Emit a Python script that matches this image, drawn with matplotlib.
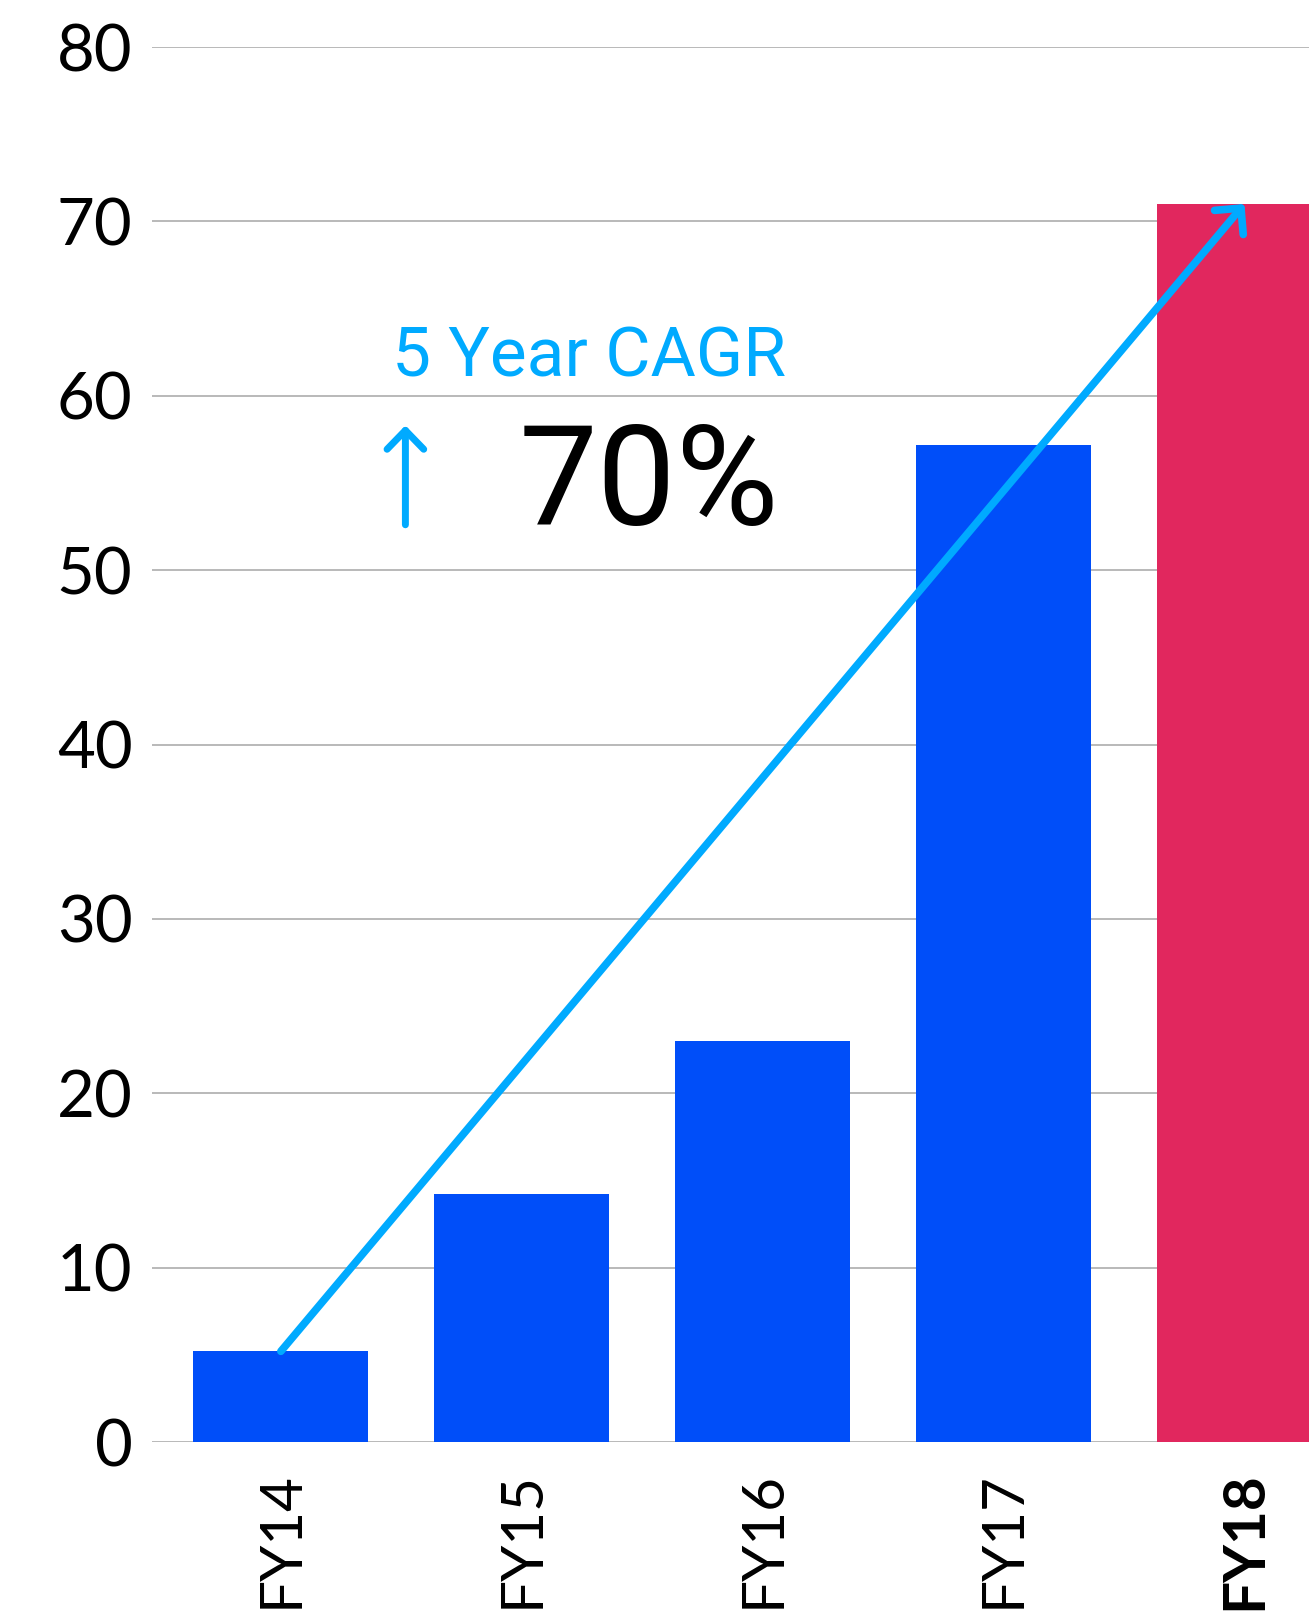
import numpy as np
import matplotlib.pyplot as plt

# data
years = ['FY14', 'FY15', 'FY16', 'FY17', 'FY18']
revenue = [5.2, 14.2, 23.0, 57.2, 71.0]
bar_colors = ['#004ef9', '#004ef9', '#004ef9', '#004ef9', '#e1275e']
y_ticks = [0, 10, 20, 30, 40, 50, 60, 70, 80]
cagr_label = '5 Year CAGR'
cagr_value = '70%'

fig = plt.figure(figsize=(13.09, 16.22), dpi=100)
ax = fig.add_axes([0.1161, 0.11097, 0.8839, 0.86005])

x = np.arange(len(years))
ax.bar(x, revenue, width=0.726, color=bar_colors, zorder=2)

ax.set_xlim(-0.535, 4.268)
ax.set_ylim(0, 80)
ax.set_yticks(y_ticks)
ax.set_yticklabels([str(v) for v in y_ticks], fontsize=47, family='Lato')
ax.set_xticks(x)
ax.set_xticklabels(years, rotation=90, fontsize=42, family='Lato')
ax.get_xticklabels()[-1].set_fontweight('bold')
ax.tick_params(axis='both', length=0)
ax.tick_params(axis='y', pad=14)
ax.tick_params(axis='x', pad=21)
ax.grid(axis='y', color='#a6a6a6', linewidth=1.1, zorder=0)
for s in ax.spines.values():
    s.set_visible(False)

# trend arrow from first to last bar
ax.annotate('', xy=(x[-1], revenue[-1]), xytext=(x[0], revenue[0]),
            arrowprops=dict(arrowstyle='->,head_length=0.27,head_width=0.27',
                            color='#00aaff', lw=5.5, shrinkA=0, shrinkB=0,
                            mutation_scale=50), zorder=3)

ax.text(0.462, 61.1, cagr_label, color='#00aaff', fontsize=50,
        family='Roboto', ha='left', va='baseline', zorder=4)
# small up arrow beside the percentage
ax.annotate('', xy=(0.517, 58.3), xytext=(0.517, 52.6),
            arrowprops=dict(arrowstyle='->,head_length=0.34,head_width=0.33',
                            color='#00aaff', lw=5, shrinkA=0, shrinkB=0,
                            mutation_scale=40, capstyle='round',
                            joinstyle='round'), zorder=4)
ax.text(0.985, 52.6, cagr_value, color='black', fontsize=101,
        family='Roboto', ha='left', va='baseline', zorder=4)

fig.savefig('out.png', dpi=100)
